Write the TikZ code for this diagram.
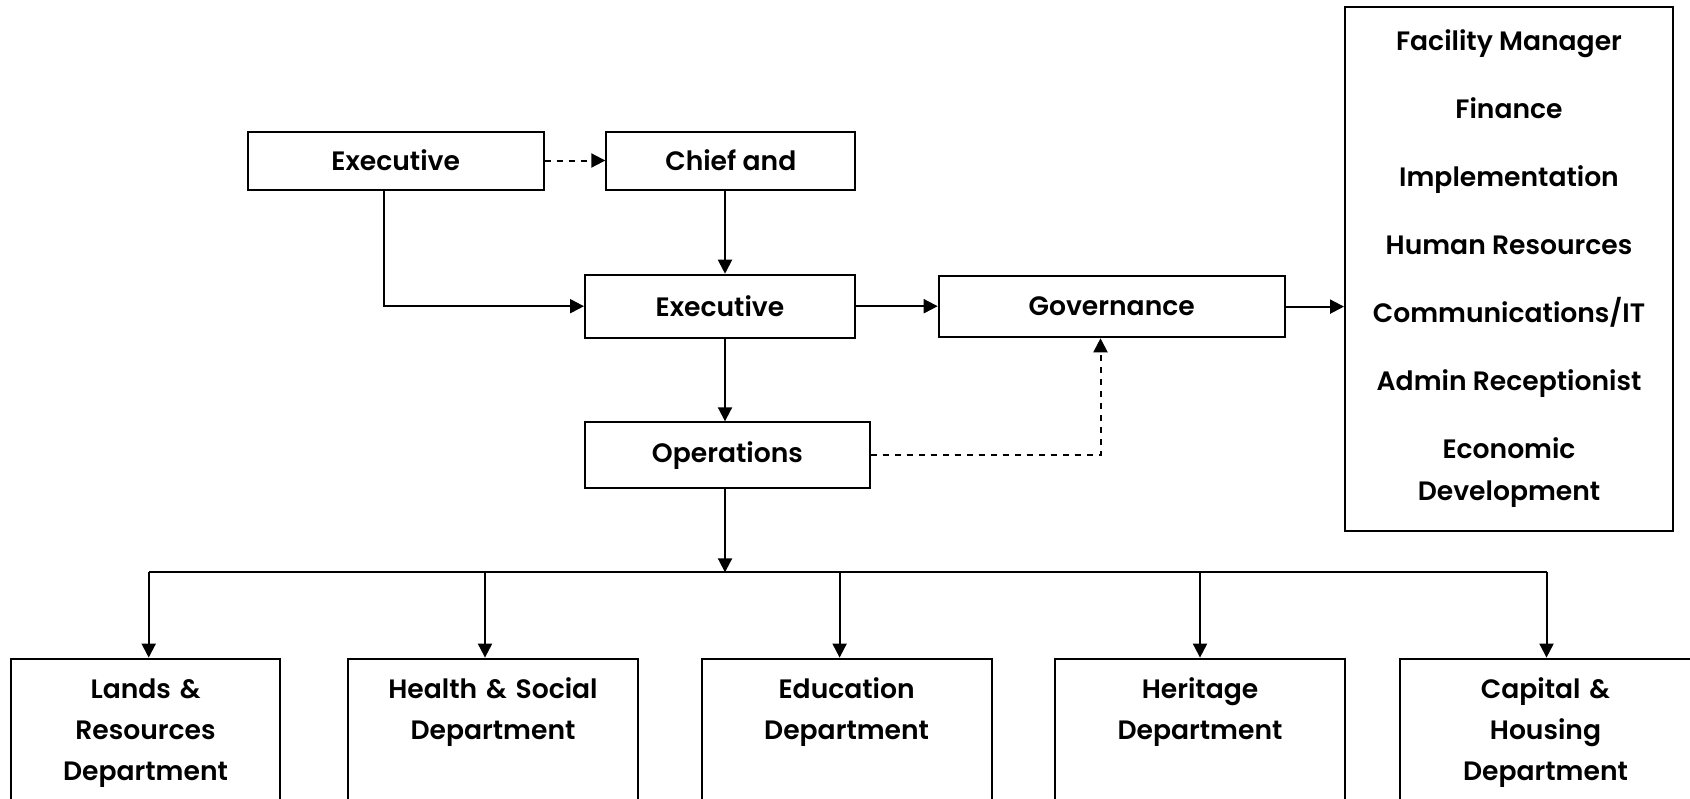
\documentclass[tikz,border=0pt]{standalone}
\usepackage{fontspec}
\setmainfont{Poppins}[BoldFont={* SemiBold}]
\usetikzlibrary{positioning, arrows.meta}
\tikzset{
  unit/.style={draw, line width=1pt, minimum height=29pt, inner sep=0pt, font=\fontsize{13.3}{16}\selectfont\bfseries},
  staffbox/.style={draw, line width=1pt, align=center, inner sep=0pt, font=\fontsize{13.3}{21}\selectfont\bfseries},
  dept/.style={draw, line width=1pt, anchor=north, align=center, inner xsep=0pt, inner ysep=10pt,
    text height=10pt, text depth=90pt, font=\fontsize{13.3}{20.5}\selectfont\bfseries},
  link/.style={line width=1pt},
}

\begin{document}
\begin{tikzpicture}[x=0.5pt, y=-0.5pt, >={Triangle[length=7pt, width=7pt]}]
  \useasboundingbox (0,0) rectangle (1690,798);
  \clip (0,0) rectangle (1690,798);
  % top of the chart
  \node[unit, minimum width=148pt] (ex1) at (395.7,160.5) {Executive};
  \node[unit, minimum width=124.5pt] (chief) at (730.8,160.5) {Chief and};
  \node[unit, minimum width=135pt, minimum height=31.5pt] (ex2) at (720,306.2) {Executive};
  \node[unit, minimum width=142.3pt, minimum height=33pt] (ops) at (727.4,455.3) {Operations};
  \node[unit, minimum width=173pt, minimum height=30.7pt] (gov) at (1111.7,306.6) {Governance};
  \node[staffbox, minimum width=164pt, minimum height=262.3pt] (staff) at (1509,268.8)
    {Facility Manager\\[13pt] Finance\\[13pt] Implementation\\[13pt] Human Resources\\[13pt]
     Communications/IT\\[13pt] Admin Receptionist\\[13pt] Economic\\Development};
  % departments
  \node[dept, text width=134.7pt] (lands) at (145.5,657.6) {Lands \&\\Resources\\Department};
  \node[dept, text width=145pt] (health) at (493,657.6) {Health \& Social\\Department};
  \node[dept, text width=145pt] (edu) at (846.6,657.6) {Education\\Department};
  \node[dept, text width=145pt] (herit) at (1200,657.6) {Heritage\\Department};
  \node[dept, text width=145.5pt] (capital) at (1545.5,657.6) {Capital \&\\Housing\\Department};
  \coordinate (spine) at (725,0);
  \coordinate (bus) at (725,572.3);
  % connectors
  \draw[link, dashed, dash pattern=on 3pt off 3pt, ->] (ex1) -- (chief);
  \draw[link, ->] ([xshift=-6pt]ex1.south) |- (ex2.west);
  \draw[link, ->] (spine |- chief.south) -- (spine |- ex2.north);
  \draw[link, ->] (spine |- ex2.south) -- (spine |- ops.north);
  \draw[link, ->] (ex2.east) -- (ex2.east -| gov.west);
  \draw[link, ->] (gov.east) -- (gov.east -| staff.west);
  \draw[link, dashed, dash pattern=on 3pt off 3pt, ->] (ops.east) -| ([xshift=-5.6pt]gov.south);
  \draw[link, ->] (spine |- ops.south) -- (bus);
  \draw[link] ([xshift=1.6pt]bus -| lands.north) -- ([xshift=0.5pt]bus -| capital.north);
  \foreach \d/\o in {lands/1.6,health/-4,edu/-3.5,herit/0,capital/0.5}
    \draw[link, ->] ([xshift=\o pt]bus -| \d.north) -- ([xshift=\o pt]\d.north);
\end{tikzpicture}
\end{document}
